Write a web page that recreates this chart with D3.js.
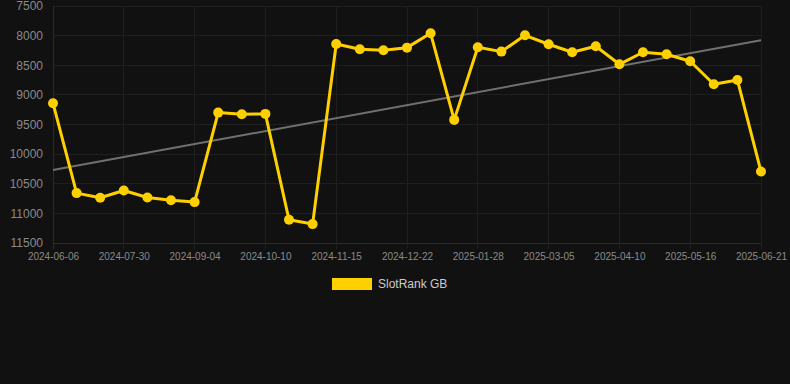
<!DOCTYPE html>
<html><head><meta charset="utf-8">
<script src="https://cdn.jsdelivr.net/npm/d3@7"></script>
<style>
html,body{margin:0;padding:0;background:#111111;}
svg{display:block;font-family:"Liberation Sans",Arial,sans-serif;}
</style></head>
<body><svg id="c" width="790" height="384"></svg>
<script>
const dates = ["2024-06-06","2024-06-24","2024-07-12","2024-07-30","2024-08-11","2024-08-23","2024-09-04","2024-09-16","2024-09-28","2024-10-10","2024-10-22","2024-11-03","2024-11-15","2024-11-27","2024-12-10","2024-12-22","2025-01-03","2025-01-16","2025-01-28","2025-02-09","2025-02-21","2025-03-05","2025-03-17","2025-03-29","2025-04-10","2025-04-22","2025-05-04","2025-05-16","2025-05-28","2025-06-09","2025-06-21"];
const rankGB = [9140,10658,10737,10614,10732,10777,10810,9299,9326,9321,11108,11181,8141,8231,8248,8203,7961,9422,8197,8270,7995,8146,8281,8180,8484,8281,8315,8433,8821,8748,10294];
const yTicks = [7500,8000,8500,9000,9500,10000,10500,11000,11500];
const seriesName = "SlotRank GB";

const svg = d3.select("#c");
const pL = 53, pR = 761, pT = 6, pB = 243;
const x = d3.scalePoint().domain(dates).range([pL, pR]);
const y = d3.scaleLinear().domain([7500, 11500]).range([pT, pB]);

// grid
const xTickVals = dates.filter((d,i)=> i % 3 === 0);
svg.append("g").selectAll("line").data(yTicks).join("line")
  .attr("x1", pL).attr("x2", pR).attr("y1", d=>y(d)).attr("y2", d=>y(d))
  .attr("stroke", d => d===11500 ? "#2c2c2c" : "#1f1f1f").attr("stroke-width",1).attr("shape-rendering","crispEdges");
svg.append("g").selectAll("line").data(xTickVals).join("line")
  .attr("x1", d=>x(d)).attr("x2", d=>x(d)).attr("y1", pT).attr("y2", pB + 6)
  .attr("stroke", "#1f1f1f").attr("stroke-width",1).attr("shape-rendering","crispEdges");
svg.append("line").attr("x1",pL).attr("x2",pL).attr("y1",pT).attr("y2",pB+6)
  .attr("stroke","#2c2c2c").attr("shape-rendering","crispEdges");

// axes labels
const yAxis = d3.axisLeft(y).tickValues(yTicks).tickSize(0).tickPadding(0).tickFormat(d3.format("d"));
const gy = svg.append("g").attr("transform", `translate(${pL-10},0)`).call(yAxis);
gy.select(".domain").remove();
gy.selectAll("text").attr("fill","#8a8a8a").style("font-size","12px");

const xAxis = d3.axisBottom(x).tickValues(xTickVals).tickSize(0).tickPadding(0);
const gx = svg.append("g").attr("transform", `translate(0,${pB+10})`).call(xAxis);
gx.select(".domain").remove();
gx.selectAll("text").attr("fill","#8a8a8a").style("font-size","10px").attr("dy","0.71em");

// trend line (least squares)
const idx = rankGB.map((v,i)=>i);
const n = rankGB.length;
const mx = d3.mean(idx), my = d3.mean(rankGB);
const slope = d3.sum(idx, i => (i-mx)*(rankGB[i]-my)) / d3.sum(idx, i => (i-mx)*(i-mx));
const icpt = my - slope*mx;
svg.append("line")
  .attr("x1", x(dates[0])).attr("y1", y(icpt))
  .attr("x2", x(dates[n-1])).attr("y2", y(icpt + slope*(n-1)))
  .attr("stroke","#707070").attr("stroke-width",2);

// series line
const line = d3.line().x((d,i)=>x(dates[i])).y(d=>y(d));
svg.append("path").datum(rankGB).attr("d", line)
  .attr("fill","none").attr("stroke","#ffd000").attr("stroke-width",3).attr("stroke-linejoin","round");
svg.append("g").selectAll("circle").data(rankGB).join("circle")
  .attr("cx",(d,i)=>x(dates[i])).attr("cy",d=>y(d)).attr("r",5).attr("fill","#ffd000");

// legend
const lg = svg.append("g");
lg.append("rect").attr("x",332).attr("y",278).attr("width",40).attr("height",12).attr("fill","#ffd000");
lg.append("text").attr("x",378).attr("y",284).attr("dy","0.35em").attr("fill","#cccccc")
  .style("font-size","12px").text(seriesName);
</script>
</body></html>
